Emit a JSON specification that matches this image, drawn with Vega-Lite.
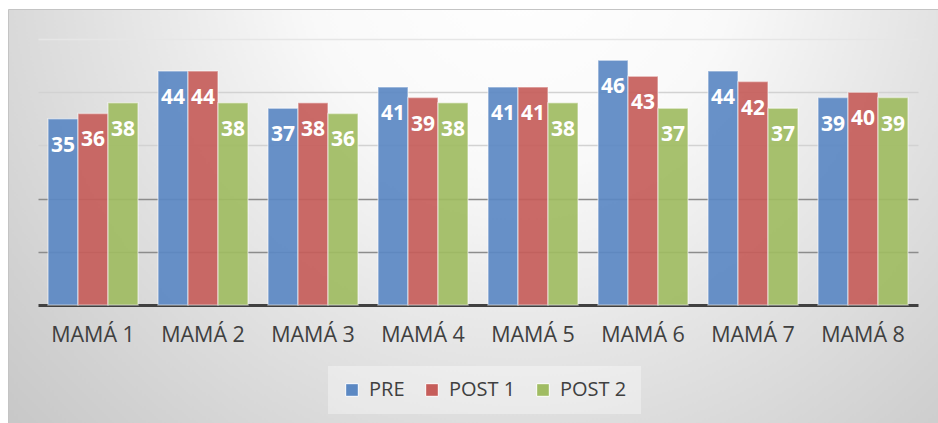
{
  "$schema": "https://vega.github.io/schema/vega-lite/v6.json",
  "width": 930,
  "height": 414,
  "autosize": {"type": "none"},
  "padding": {"left": 8, "top": 9, "right": 0, "bottom": 0},
  "background": "white",
  "config": {
    "view": {
      "stroke": "#c4c4c4",
      "strokeWidth": 1,
      "fill": {
        "gradient": "radial",
        "x1": 0.55, "y1": 0.22, "r1": 0,
        "x2": 0.55, "y2": 0.22, "r2": 0.76,
        "stops": [
          {"offset": 0, "color": "#ffffff"},
          {"offset": 0.3, "color": "#f9f9f9"},
          {"offset": 0.6, "color": "#e2e2e2"},
          {"offset": 0.85, "color": "#d0d0d0"},
          {"offset": 1, "color": "#c6c6c6"}
        ]
      }
    }
  },
  "data": {
    "values": [
      {"mama": "MAMÁ 1", "serie": "PRE", "valor": 35},
      {"mama": "MAMÁ 1", "serie": "POST 1", "valor": 36},
      {"mama": "MAMÁ 1", "serie": "POST 2", "valor": 38},
      {"mama": "MAMÁ 2", "serie": "PRE", "valor": 44},
      {"mama": "MAMÁ 2", "serie": "POST 1", "valor": 44},
      {"mama": "MAMÁ 2", "serie": "POST 2", "valor": 38},
      {"mama": "MAMÁ 3", "serie": "PRE", "valor": 37},
      {"mama": "MAMÁ 3", "serie": "POST 1", "valor": 38},
      {"mama": "MAMÁ 3", "serie": "POST 2", "valor": 36},
      {"mama": "MAMÁ 4", "serie": "PRE", "valor": 41},
      {"mama": "MAMÁ 4", "serie": "POST 1", "valor": 39},
      {"mama": "MAMÁ 4", "serie": "POST 2", "valor": 38},
      {"mama": "MAMÁ 5", "serie": "PRE", "valor": 41},
      {"mama": "MAMÁ 5", "serie": "POST 1", "valor": 41},
      {"mama": "MAMÁ 5", "serie": "POST 2", "valor": 38},
      {"mama": "MAMÁ 6", "serie": "PRE", "valor": 46},
      {"mama": "MAMÁ 6", "serie": "POST 1", "valor": 43},
      {"mama": "MAMÁ 6", "serie": "POST 2", "valor": 37},
      {"mama": "MAMÁ 7", "serie": "PRE", "valor": 44},
      {"mama": "MAMÁ 7", "serie": "POST 1", "valor": 42},
      {"mama": "MAMÁ 7", "serie": "POST 2", "valor": 37},
      {"mama": "MAMÁ 8", "serie": "PRE", "valor": 39},
      {"mama": "MAMÁ 8", "serie": "POST 1", "valor": 40},
      {"mama": "MAMÁ 8", "serie": "POST 2", "valor": 39}
    ]
  },
  "encoding": {
    "x": {
      "field": "mama",
      "type": "nominal",
      "sort": null,
      "scale": {"range": [30, 910], "paddingInner": 0.1818, "paddingOuter": 0.0909},
      "axis": {
        "title": null,
        "offset": -118,
        "domainColor": "#404040",
        "domainWidth": 3,
        "ticks": false,
        "labelAngle": 0,
        "labelFont": "Open Sans",
        "labelFontSize": 21.5,
        "labelColor": "#404040",
        "labelPadding": 19
      }
    },
    "xOffset": {
      "field": "serie",
      "type": "nominal",
      "sort": ["PRE", "POST 1", "POST 2"],
      "scale": {"paddingInner": 0, "paddingOuter": 0}
    },
    "y": {
      "field": "valor",
      "type": "quantitative",
      "scale": {"domain": [0, 50], "range": [296, 30], "nice": false, "zero": true},
      "axis": {
        "title": null,
        "values": [10, 20, 30, 40, 50],
        "labels": false,
        "ticks": false,
        "domain": false,
        "grid": true,
        "gridWidth": 1.5,
        "gridColor": {
          "condition": [
            {"test": "datum.value >= 50", "value": "#e6e6e6"},
            {"test": "datum.value >= 30", "value": "#d2d2d2"}
          ],
          "value": "#8c8c8c"
        }
      }
    }
  },
  "layer": [
    {
      "mark": {"type": "bar", "fillOpacity": 0.92, "stroke": "white", "strokeOpacity": 0.45, "strokeWidth": 1.5},
      "encoding": {
        "color": {
          "field": "serie",
          "type": "nominal",
          "sort": ["PRE", "POST 1", "POST 2"],
          "scale": {"domain": ["PRE", "POST 1", "POST 2"], "range": ["#5b88c3", "#c65d5a", "#a0bc62"]},
          "legend": {
            "title": null,
            "orient": "none",
            "legendX": 320,
            "legendY": 357,
            "direction": "horizontal",
            "labelFont": "Open Sans",
            "labelFontSize": 20,
            "labelColor": "#404040",
            "symbolType": "square",
            "symbolSize": 160,
            "symbolOpacity": 1,
            "symbolStrokeWidth": 1,
            "labelOffset": 7,
            "columnPadding": 17,
            "padding": 14,
            "fillColor": "rgba(255,255,255,0.35)"
          }
        }
      }
    },
    {
      "mark": {"type": "text", "font": "Open Sans", "fontSize": 21, "fontWeight": "bold", "fill": "white", "baseline": "middle", "dy": 27},
      "encoding": {
        "text": {"field": "valor", "type": "quantitative"}
      }
    }
  ]
}
